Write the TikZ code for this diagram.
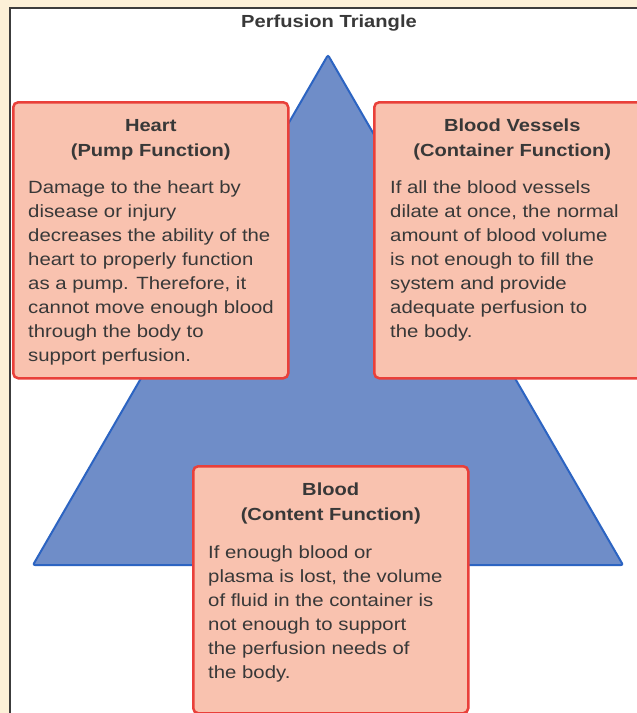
\documentclass[tikz,border=0pt]{standalone}
\usepackage{fontspec}
\setmainfont{Liberation Sans}[FakeStretch=1.15]
\usepackage{tikz}
\usetikzlibrary{positioning}
\definecolor{paper}{HTML}{FCF0D7}
\definecolor{panelEdge}{HTML}{3C3C3C}
\definecolor{triangleFill}{HTML}{6F8DC8}
\definecolor{triangleEdge}{HTML}{2C64C2}
\definecolor{boxFill}{HTML}{F9C2AF}
\definecolor{boxEdge}{HTML}{E9403A}
\colorlet{boxText}{black!78}

\begin{document}
\begin{tikzpicture}[
  x=1pt,
  y=-1pt,
  info box/.style={
    draw=boxEdge,
    line width=2.5pt,
    fill=boxFill,
    rounded corners=5pt,
    anchor=north west,
    inner sep=0pt,
  },
  box title/.style={
    font=\bfseries\fontsize{17.5}{25}\selectfont,
    text=boxText,
    align=center,
    inner sep=0pt,
  },
  box text/.style={
    font=\fontsize{17.7}{24}\selectfont,
    text=boxText,
    align=left,
    inner sep=0pt,
    anchor=north west,
  }
]
\useasboundingbox (0,0) rectangle (637,713);
\clip (0,0) rectangle (637,713);
\fill[paper] (0,0) rectangle (637,713);
\draw[panelEdge, line width=1.5pt, fill=white] (10,8) rectangle (660,730);
\node[box title, anchor=base] (title) at (329,27) {Perfusion Triangle};

% the triangle
\coordinate (apex) at (328,55);
\coordinate (baseLeft) at (33,565);
\coordinate (baseRight) at (623,565);
\draw[triangleEdge, line width=2pt, fill=triangleFill, rounded corners=2pt]
  (apex) -- (baseLeft) -- (baseRight) -- cycle;

% the three boxes
\node[info box, minimum width=275pt, minimum height=276pt] (heart) at (12,101) {};
\node[info box, minimum width=276pt, minimum height=276pt] (vessels) at (373,101) {};
\node[info box, minimum width=275pt, minimum height=247pt] (blood) at (192,465) {};

\node[box title, below=18pt of heart.north] (heartTitle) {Heart\\(Pump Function)};
\node[box text] (heartText) at ([xshift=16pt,yshift=-79pt]heart.north west)
  {Damage to the heart by\\disease or injury\\decreases the ability of the\\heart to properly function\\as a pump. Therefore, it\\cannot move enough blood\\through the body to\\support perfusion.};

\node[box title, below=18pt of vessels.north] (vesselsTitle) {Blood Vessels\\(Container Function)};
\node[box text] (vesselsText) at ([xshift=17pt,yshift=-79pt]vessels.north west)
  {If all the blood vessels\\dilate at once, the normal\\amount of blood volume\\is not enough to fill the\\system and provide\\adequate perfusion to\\the body.};

\node[box title, below=18pt of blood.north] (bloodTitle) {Blood\\(Content Function)};
\node[box text] (bloodText) at ([xshift=16pt,yshift=-80pt]blood.north west)
  {If enough blood or\\plasma is lost, the volume\\of fluid in the container is\\not enough to support\\the perfusion needs of\\the body.};
\end{tikzpicture}
\end{document}
